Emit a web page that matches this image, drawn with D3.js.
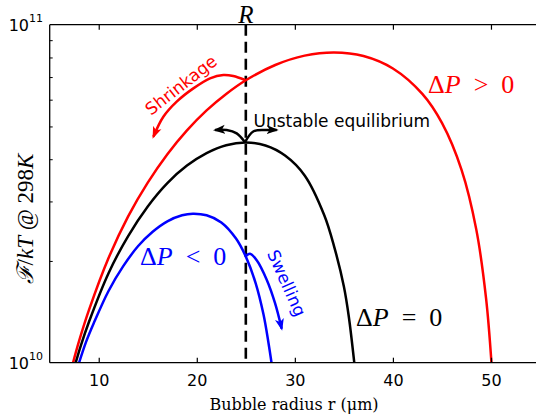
<!DOCTYPE html>
<html>
<head>
<meta charset="utf-8">
<script src="https://cdn.jsdelivr.net/npm/d3@7"></script>
<style>
  html, body { margin: 0; padding: 0; background: #fff; }
  svg { display: block; }
</style>
</head>
<body>
<svg id="chart" width="536" height="419"></svg>
<script>
// Free energy of a bubble (in units of kT at 298 K) versus bubble radius r (µm)
const radiusZero  = [7.65, 8.2, 9, 11, 13, 15, 17, 19, 21, 23, 25, 27, 29, 31, 33, 34, 35, 35.5, 36.06];
const energyZero  = [1.0e10, 1.13e10, 1.32e10, 1.84e10, 2.37e10, 2.90e10, 3.40e10, 3.83e10, 4.17e10, 4.40e10, 4.48e10, 4.39e10, 4.10e10, 3.58e10, 2.73e10, 2.21e10, 1.68e10, 1.37e10, 1.0e10];

const radiusPos   = [7.38, 8.0, 9, 11, 13, 15, 17, 19, 21, 23, 25, 28, 31, 34, 37, 40, 43, 45, 47, 48.5, 49.5, 50.05];
const energyPos   = [1.0e10, 1.16e10, 1.43e10, 2.04e10, 2.71e10, 3.41e10, 4.14e10, 4.87e10, 5.58e10, 6.24e10, 6.85e10, 7.60e10, 8.10e10, 8.28e10, 8.08e10, 7.42e10, 6.24e10, 5.12e10, 3.72e10, 2.48e10, 1.55e10, 1.0e10];

const radiusNeg   = [8.0, 8.7, 9.5, 11, 12.5, 14, 15.5, 17, 18.5, 19.6, 21, 22.5, 24, 25, 26, 26.8, 27.3, 27.62];
const energyNeg   = [1.0e10, 1.15e10, 1.31e10, 1.63e10, 1.93e10, 2.21e10, 2.44e10, 2.62e10, 2.73e10, 2.76e10, 2.73e10, 2.60e10, 2.33e10, 2.06e10, 1.72e10, 1.39e10, 1.15e10, 1.0e10];

// Annotation arrows, in (r, F/kT)
const shrinkR     = [24.92, 23.72, 22.71, 21.35, 19.65, 17.95, 16.59, 15.57];
const shrinkF     = [6.86e10, 7.05e10, 7.10e10, 6.94e10, 6.48e10, 5.92e10, 5.34e10, 4.66e10];
const swellR      = [24.92, 25.43, 26.11, 27.13, 27.98, 28.66];
const swellF      = [2.06e10, 2.10e10, 2.01e10, 1.76e10, 1.50e10, 1.26e10];
const unstableLR  = [24.92, 24.07, 23.05, 21.86];
const unstableLF  = [4.49e10, 4.77e10, 4.88e10, 4.88e10];
const unstableRR  = [24.92, 25.76, 26.96, 28.15];
const unstableRF  = [4.49e10, 4.83e10, 4.88e10, 4.88e10];

const equilibriumRadius = 25;
const xTicks = [10, 20, 30, 40, 50];
const yMajor = [1e10, 1e11];
const yMinor = [2e10, 3e10, 4e10, 5e10, 6e10, 7e10, 8e10, 9e10];
const yTickExp = ["10", "11"];

const svg = d3.select("#chart");
const plotL = 49.7, plotR = 540, plotT = 24.7, plotB = 362.7;

const x = d3.scaleLinear().domain([5, 55]).range([plotL, plotR]);
const y = d3.scaleLog().domain([1e10, 1e11]).range([plotB, plotT]);

const zip = (a, b) => a.map((v, i) => [v, b[i]]);
const line = d3.line().x(d => x(d[0])).y(d => y(d[1])).curve(d3.curveCatmullRom.alpha(0.5));

// arrowheads
const defs = svg.append("defs");
[["red", "#ff0000"], ["blue", "#0000ff"], ["black", "#000000"]].forEach(([id, c]) => {
  defs.append("marker")
    .attr("id", "head-" + id)
    .attr("viewBox", "0 -5 12 10")
    .attr("refX", 10).attr("refY", 0)
    .attr("markerWidth", 12).attr("markerHeight", 10)
    .attr("markerUnits", "userSpaceOnUse")
    .attr("orient", "auto")
    .append("path")
    .attr("d", "M0,-4.5L12,0L0,4.5L3,0Z")
    .attr("fill", c);
});

// dashed line at equilibrium radius R
svg.append("line")
  .attr("x1", x(equilibriumRadius)).attr("x2", x(equilibriumRadius))
  .attr("y1", plotT).attr("y2", plotB)
  .attr("stroke", "#000").attr("stroke-width", 2.6)
  .attr("stroke-dasharray", "11,6");

// curves
const curves = [
  { r: radiusPos, f: energyPos, c: "#ff0000" },
  { r: radiusZero, f: energyZero, c: "#000000" },
  { r: radiusNeg, f: energyNeg, c: "#0000ff" }
];
svg.append("g").selectAll("path").data(curves).join("path")
  .attr("d", d => line(zip(d.r, d.f)))
  .attr("fill", "none")
  .attr("stroke", d => d.c)
  .attr("stroke-width", 2.5);

// annotation arrows
const arrows = [
  { r: shrinkR, f: shrinkF, c: "#ff0000", head: "red" },
  { r: swellR, f: swellF, c: "#0000ff", head: "blue" },
  { r: unstableLR, f: unstableLF, c: "#000000", head: "black" },
  { r: unstableRR, f: unstableRF, c: "#000000", head: "black" }
];
svg.append("g").selectAll("path").data(arrows).join("path")
  .attr("d", d => line(zip(d.r, d.f)))
  .attr("fill", "none")
  .attr("stroke", d => d.c)
  .attr("stroke-width", 2.5)
  .attr("marker-end", d => `url(#head-${d.head})`);

// axes frame
const frame = svg.append("g").attr("stroke", "#000").attr("stroke-width", 1.3).attr("fill", "none");
frame.append("line").attr("x1", plotL).attr("x2", 536).attr("y1", plotT).attr("y2", plotT);
frame.append("line").attr("x1", plotL).attr("x2", 536).attr("y1", plotB).attr("y2", plotB);
frame.append("line").attr("x1", plotL).attr("x2", plotL).attr("y1", plotT).attr("y2", plotB);

// x ticks: inward on bottom and top
const xAxisBottom = d3.axisBottom(x).tickValues(xTicks).tickSize(-5).tickPadding(12).tickFormat(d3.format("d"));
const gxb = svg.append("g").attr("transform", `translate(0,${plotB})`).call(xAxisBottom);
gxb.select(".domain").remove();
gxb.selectAll("line").attr("stroke-width", 1.2);
gxb.selectAll("text").attr("font-family", "DejaVu Sans").attr("font-size", 16).attr("fill", "#000");

const gxt = svg.append("g").attr("transform", `translate(0,${plotT})`)
  .call(d3.axisTop(x).tickValues(xTicks).tickSize(-5).tickFormat(""));
gxt.select(".domain").remove();
gxt.selectAll("line").attr("stroke-width", 1.2);

// y ticks: minor ticks inward on left
const gy = svg.append("g").attr("transform", `translate(${plotL},0)`)
  .call(d3.axisLeft(y).tickValues(yMinor).tickSize(-3).tickFormat(""));
gy.select(".domain").remove();
gy.selectAll("line").attr("stroke-width", 1);

// y major tick labels as powers of ten
yMajor.forEach((v, i) => {
  const t = svg.append("text")
    .attr("x", 43).attr("y", y(v) + 6)
    .attr("text-anchor", "end")
    .attr("font-family", "DejaVu Sans").attr("font-size", 16);
  t.append("tspan").text("10");
  t.append("tspan").attr("font-size", 11).attr("dy", -9).text(yTickExp[i]);
});

// axis titles
svg.append("text")
  .attr("x", 294).attr("y", 410)
  .attr("text-anchor", "middle")
  .attr("font-family", "DejaVu Serif").attr("font-size", 16)
  .text("Bubble radius r (μm)");

const yl = svg.append("text")
  .attr("transform", "translate(33,219) rotate(-90)")
  .attr("text-anchor", "middle")
  .attr("font-family", "Liberation Serif").attr("font-size", 23);
yl.append("tspan").attr("font-style", "italic").text("ℱ");
yl.append("tspan").text("/");
yl.append("tspan").attr("font-style", "italic").text("kT");
yl.append("tspan").text(" @ 298");
yl.append("tspan").attr("font-style", "italic").text("K");

// R label above the dashed line
svg.append("text")
  .attr("x", x(equilibriumRadius)).attr("y", 22.5)
  .attr("text-anchor", "middle")
  .attr("font-family", "Liberation Serif").attr("font-style", "italic").attr("font-size", 25)
  .text("R");

// curve labels
function deltaLabel(r, f, rel, color) {
  const t = svg.append("text")
    .attr("x", x(r)).attr("y", y(f))
    .attr("font-family", "Liberation Serif").attr("font-size", 26)
    .attr("fill", color);
  t.append("tspan").text("Δ");
  t.append("tspan").attr("font-style", "italic").text("P");
  t.append("tspan").attr("dx", 13).text(rel);
  t.append("tspan").attr("dx", 13).text("0");
}
deltaLabel(43.58, 6.27e10, ">", "#ff0000");
deltaLabel(14.21, 1.95e10, "<", "#0000ff");
deltaLabel(36.24, 1.284e10, "=", "#000000");

// text annotations
svg.append("text")
  .attr("x", x(25.78)).attr("y", y(4.99e10))
  .attr("font-family", "DejaVu Sans").attr("font-size", 17)
  .text("Unstable equilibrium");

svg.append("text")
  .attr("transform", `translate(${x(18.39)},${y(6.63e10)}) rotate(-38)`)
  .attr("text-anchor", "middle").attr("dominant-baseline", "central")
  .attr("font-family", "DejaVu Sans").attr("font-size", 17).attr("fill", "#ff0000")
  .text("Shrinkage");

svg.append("text")
  .attr("transform", `translate(${x(29.17)},${y(1.72e10)}) rotate(66)`)
  .attr("text-anchor", "middle").attr("dominant-baseline", "central")
  .attr("font-family", "DejaVu Sans").attr("font-size", 17).attr("fill", "#0000ff")
  .text("Swelling");
</script>
</body>
</html>
